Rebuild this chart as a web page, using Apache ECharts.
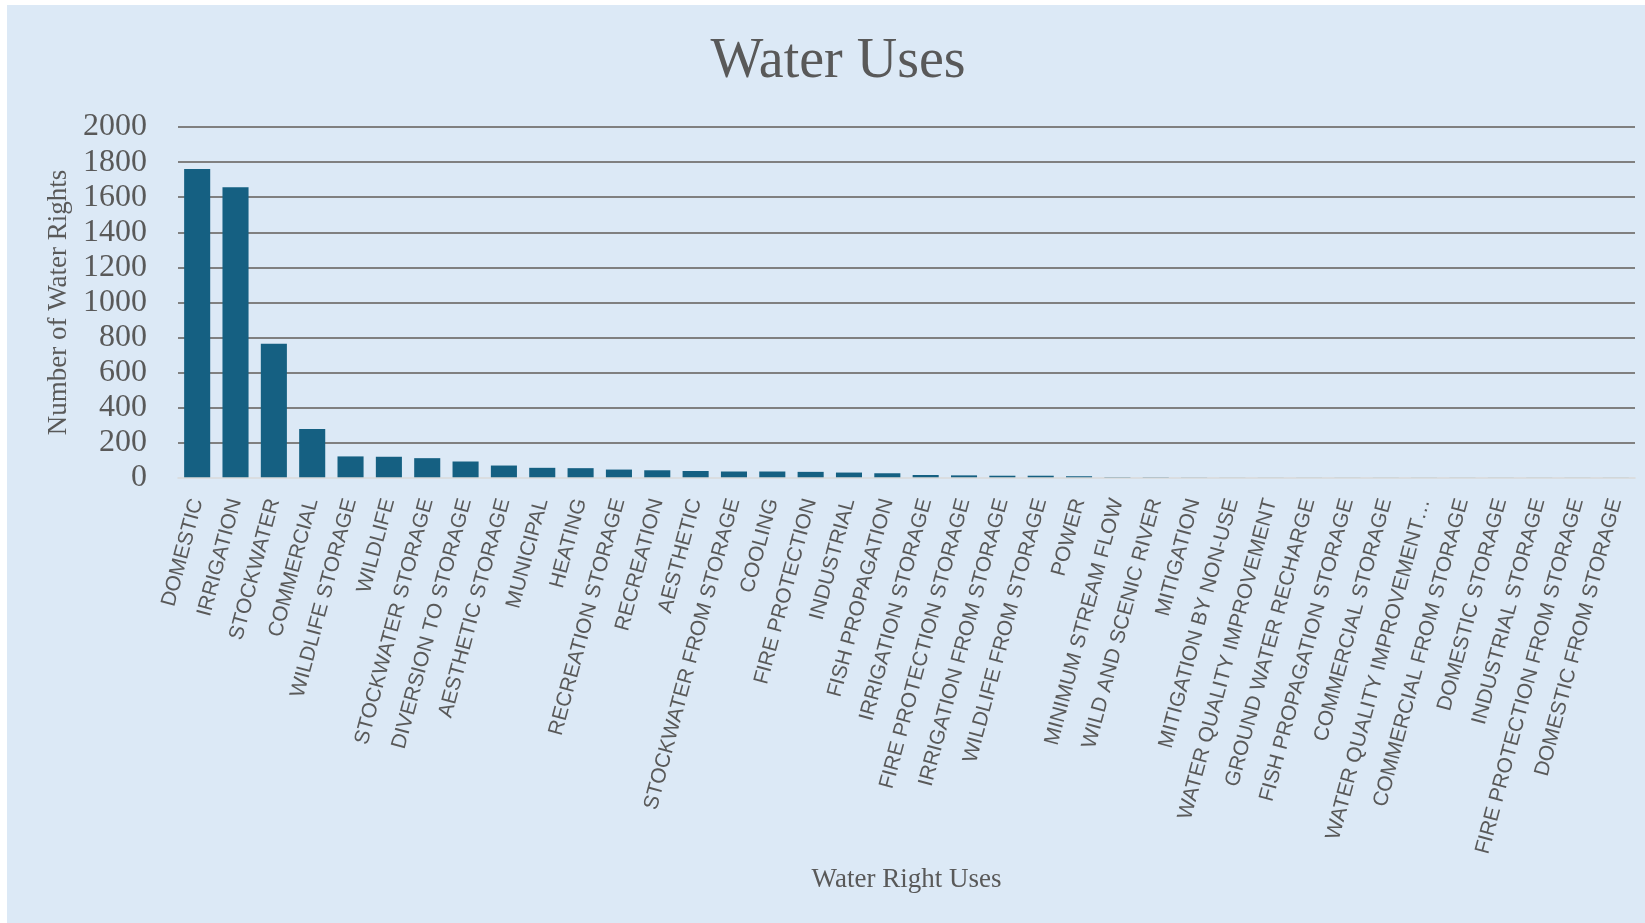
<!DOCTYPE html>
<html>
<head>
<meta charset="utf-8">
<script src="https://cdn.jsdelivr.net/npm/echarts@6/dist/echarts.min.js"></script>
<style>
  html, body { margin:0; padding:0; background:#ffffff; }
  #bg { position:absolute; left:7px; top:5px; width:1638px; height:918px; background:#DCE9F6; }
  #chart { position:absolute; left:0; top:0; width:1645px; height:923px; }
</style>
</head>
<body>
<div id="bg"></div>
<div id="chart"></div>
<script>
const categories = [
  "DOMESTIC", "IRRIGATION", "STOCKWATER", "COMMERCIAL", "WILDLIFE STORAGE", "WILDLIFE",
  "STOCKWATER STORAGE", "DIVERSION TO STORAGE", "AESTHETIC STORAGE", "MUNICIPAL", "HEATING",
  "RECREATION STORAGE", "RECREATION", "AESTHETIC", "STOCKWATER FROM STORAGE", "COOLING",
  "FIRE PROTECTION", "INDUSTRIAL", "FISH PROPAGATION", "IRRIGATION STORAGE",
  "FIRE PROTECTION STORAGE", "IRRIGATION FROM STORAGE", "WILDLIFE FROM STORAGE", "POWER",
  "MINIMUM STREAM FLOW", "WILD AND SCENIC RIVER", "MITIGATION", "MITIGATION BY NON-USE",
  "WATER QUALITY IMPROVEMENT", "GROUND WATER RECHARGE", "FISH PROPAGATION STORAGE",
  "COMMERCIAL STORAGE", "WATER QUALITY IMPROVEMENT…", "COMMERCIAL FROM STORAGE",
  "DOMESTIC STORAGE", "INDUSTRIAL STORAGE", "FIRE PROTECTION FROM STORAGE", "DOMESTIC FROM STORAGE"
];
const waterRights = [
  1761, 1656, 765, 279, 123, 121,
  113, 94, 71, 58, 56,
  48, 44, 40, 37, 37,
  35, 31, 27, 17,
  15, 13, 13, 10,
  5, 4, 2, 1,
  1, 1, 1,
  1, 1, 1,
  1, 1, 1, 1
];
const yTicks = { min: 0, max: 2000, interval: 200 };
const titleText = "Water Uses";
const yName = "Number of Water Rights";
const xName = "Water Right Uses";

const chart = echarts.init(document.getElementById('chart'), null, { renderer: 'canvas' });
const textColor = '#595959';
chart.setOption({
  backgroundColor: 'transparent',
  animation: false,
  title: {
    text: titleText,
    left: 833,
    top: 29,
    textAlign: 'center',
    textStyle: { fontFamily: 'Liberation Serif', fontWeight: 'normal', fontSize: 56, color: textColor }
  },
  grid: { left: 178, right: 10, top: 127, bottom: 445, containLabel: false },
  xAxis: {
    type: 'category',
    data: categories,
    z: 5,
    name: xName,
    nameLocation: 'middle',
    nameGap: 388,
    nameTextStyle: { fontFamily: 'Liberation Serif', fontSize: 27, color: textColor },
    axisLine: { show: true, lineStyle: { color: '#D9D9D9', width: 1.5 } },
    axisTick: { show: false },
    axisLabel: {
      interval: 0,
      rotate: 75,
      margin: 21,
      fontFamily: 'Liberation Sans',
      fontSize: 21,
      color: textColor
    }
  },
  yAxis: {
    type: 'value',
    min: yTicks.min,
    max: yTicks.max,
    interval: yTicks.interval,
    name: yName,
    nameLocation: 'middle',
    nameGap: 99,
    nameRotate: 90,
    nameTextStyle: { fontFamily: 'Liberation Serif', fontSize: 27, color: textColor },
    axisLine: { show: false },
    axisTick: { show: false },
    axisLabel: {
      margin: 31, fontFamily: 'Liberation Serif', fontSize: 32, color: textColor,
      formatter: function (v) { return String(v); }
    },
    splitLine: { show: true, showMinLine: false, lineStyle: { color: '#808080', width: 2 } }
  },
  series: [{
    type: 'bar',
    data: waterRights,
    barCategoryGap: '32%',
    itemStyle: { color: '#156082' }
  }]
});
</script>
</body>
</html>
